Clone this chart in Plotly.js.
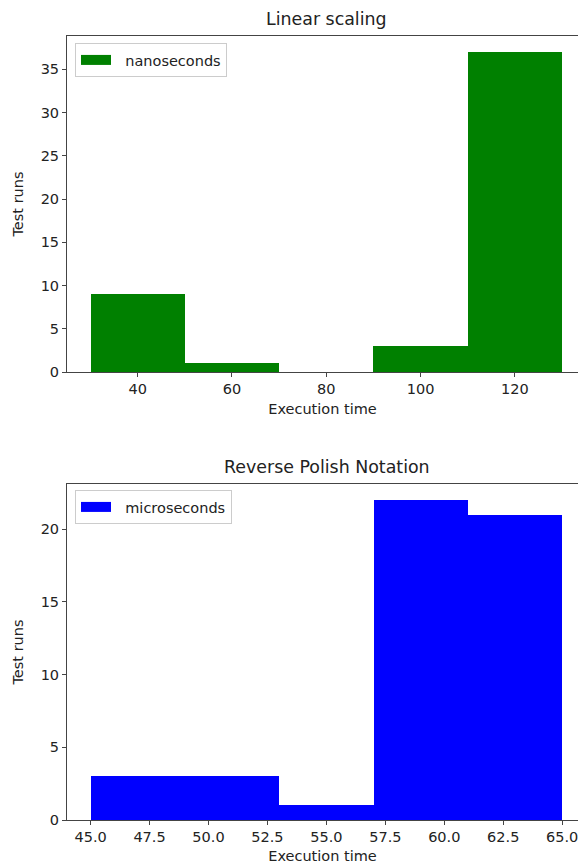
<!DOCTYPE html>
<html>
<head>
<meta charset="utf-8">
<script src="https://cdn.plot.ly/plotly-3.0.1.min.js"></script>
<style>html,body{margin:0;padding:0;background:#fff;}#chart{width:578px;height:865px;}</style>
</head>
<body>
<div id="chart"></div>
<script>
// Linear scaling histogram (nanoseconds)
const linearBinCenters = [40, 60, 80, 100, 120];
const linearCounts = [9, 1, 0, 3, 37];
const linearBinWidth = 20;
// Reverse Polish Notation histogram (microseconds)
const rpnBinCenters = [47, 51, 55, 59, 63];
const rpnCounts = [3, 3, 1, 22, 21];
const rpnBinWidth = 4;

const topTickVals = [40, 60, 80, 100, 120];
const bottomTickVals = [45, 47.5, 50, 52.5, 55, 57.5, 60, 62.5, 65];
const topYTicks = [0, 5, 10, 15, 20, 25, 30, 35];
const bottomYTicks = [0, 5, 10, 15, 20];

const H = 865, W = 578;
const FS = 14.5;
const font = {family: 'DejaVu Sans, sans-serif', size: FS, color: '#222'};
const titleFont = {family: 'DejaVu Sans, sans-serif', size: 17.4, color: '#222'};
const py = p => 1 - p / H;
const pad = '\u00a0\u00a0';

const axisCommon = {
  showline: true, linecolor: '#444', linewidth: 1,
  ticks: 'outside', ticklen: 4, tickcolor: '#444', tickwidth: 1,
  showgrid: false, zeroline: false, tickfont: font, automargin: false,
  fixedrange: true, ticklabeloverflow: 'allow'
};

const data = [
  {type: 'bar', x: linearBinCenters, y: linearCounts, width: linearBinWidth,
   marker: {color: '#008000', line: {width: 0}}, name: 'nanoseconds',
   xaxis: 'x', yaxis: 'y', showlegend: false},
  {type: 'bar', x: rpnBinCenters, y: rpnCounts, width: rpnBinWidth,
   marker: {color: '#0000ff', line: {width: 0}}, name: 'microseconds',
   xaxis: 'x2', yaxis: 'y2', showlegend: false},
  // legend entries (matplotlib-style wide patch)
  {type: 'scatter', mode: 'lines', x: [null], y: [null], name: pad + 'nanoseconds',
   line: {color: '#008000', width: 10}, xaxis: 'x', yaxis: 'y', legend: 'legend', showlegend: true},
  {type: 'scatter', mode: 'lines', x: [null], y: [null], name: pad + 'microseconds',
   line: {color: '#0000ff', width: 10}, xaxis: 'x2', yaxis: 'y2', legend: 'legend2', showlegend: true}
];

const layout = {
  width: W, height: H,
  margin: {l: 67, r: 0, t: 0, b: 0},
  paper_bgcolor: '#fff', plot_bgcolor: '#fff',
  font: font,
  bargap: 0,
  xaxis: Object.assign({}, axisCommon, {
    domain: [0, 1], anchor: 'y', range: [25, 25 + (W - 67) / 4.714],
    tickvals: topTickVals, mirror: true,
    title: {text: 'Execution time', font: font, standoff: 7}
  }),
  yaxis: Object.assign({}, axisCommon, {
    domain: [py(372), py(36)], anchor: 'x', range: [0, 38.85],
    tickvals: topYTicks,
    title: {text: 'Test runs', font: font, standoff: 13}
  }),
  xaxis2: Object.assign({}, axisCommon, {
    domain: [0, 1], anchor: 'y2', range: [44, 44 + (W - 67) / 23.58],
    tickvals: bottomTickVals, tickformat: '.1f', mirror: true,
    title: {text: 'Execution time', font: font, standoff: 6}
  }),
  yaxis2: Object.assign({}, axisCommon, {
    domain: [py(820), py(484)], anchor: 'x2', range: [0, 23.1],
    tickvals: bottomYTicks,
    title: {text: 'Test runs', font: font, standoff: 13}
  }),
  legend: {
    x: 0.0157, y: py(43), xanchor: 'left', yanchor: 'top',
    bgcolor: '#fff', bordercolor: '#ccc', borderwidth: 1,
    font: font, itemwidth: 30
  },
  legend2: {
    x: 0.0157, y: py(490), xanchor: 'left', yanchor: 'top',
    bgcolor: '#fff', bordercolor: '#ccc', borderwidth: 1,
    font: font, itemwidth: 30
  },
  annotations: [
    {text: 'Linear scaling', xref: 'paper', yref: 'paper', x: (326.5 - 67) / (W - 67), y: py(19),
     xanchor: 'center', yanchor: 'middle', showarrow: false, font: titleFont},
    {text: 'Reverse Polish Notation', xref: 'paper', yref: 'paper', x: (326.5 - 67) / (W - 67), y: py(467),
     xanchor: 'center', yanchor: 'middle', showarrow: false, font: titleFont}
  ]
};

Plotly.newPlot('chart', data, layout, {displayModeBar: false, staticPlot: true});
</script>
</body>
</html>
